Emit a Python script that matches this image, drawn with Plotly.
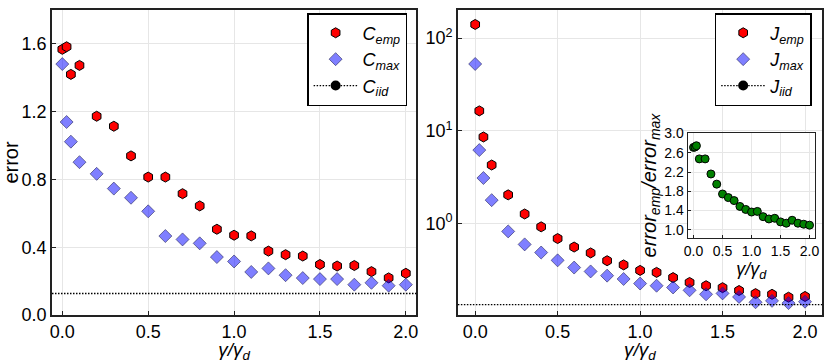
import plotly.graph_objects as go

# gamma / gamma_d
gamma = [0.0, 0.025, 0.05, 0.1, 0.2, 0.3, 0.4, 0.5, 0.6, 0.7, 0.8, 0.9,
         1.0, 1.1, 1.2, 1.3, 1.4, 1.5, 1.6, 1.7, 1.8, 1.9, 2.0]

c_emp = [1.568, 1.583, 1.42, 1.473, 1.173, 1.114, 0.939, 0.814, 0.814, 0.716,
         0.644, 0.506, 0.471, 0.467, 0.377, 0.356, 0.348, 0.298, 0.289, 0.292,
         0.256, 0.219, 0.246]
c_max = [1.481, 1.139, 1.023, 0.902, 0.833, 0.746, 0.692, 0.612, 0.466, 0.446,
         0.423, 0.342, 0.316, 0.254, 0.275, 0.235, 0.218, 0.212, 0.212, 0.179,
         0.190, 0.173, 0.179]
c_iid = 0.127

j_emp = [140.0, 16.4, 8.58, 4.28, 2.04, 1.27, 0.923, 0.69, 0.559, 0.483,
         0.398, 0.359, 0.313, 0.298, 0.262, 0.232, 0.214, 0.204, 0.19, 0.176,
         0.173, 0.161, 0.164]
j_max = [52.5, 6.2, 3.1, 1.79, 0.824, 0.597, 0.488, 0.402, 0.336, 0.305,
         0.275, 0.253, 0.226, 0.214, 0.205, 0.191, 0.173, 0.177, 0.162, 0.142,
         0.147, 0.139, 0.144]
j_iid = 0.134

ratio = [2.713, 2.72, 2.747, 2.474, 2.474, 2.16, 1.949, 1.744, 1.669, 1.607,
         1.485, 1.423, 1.369, 1.382, 1.273, 1.225, 1.239, 1.164, 1.137, 1.198,
         1.137, 1.116, 1.096]

log_ticks = [1, 10, 100]
log_labels = ['10<sup>0</sup>', '10<sup>1</sup>', '10<sup>2</sup>']

FONT = 'Liberation Sans, Arial, sans-serif'
GRID = '#e6e6e6'
AX = '#222222'

emp_marker = dict(symbol='hexagon', size=10, color='red',
                  line=dict(color='black', width=1))
max_marker = dict(symbol='diamond', size=10, color='rgba(0,0,255,0.5)',
                  line=dict(color='rgba(40,40,90,0.6)', width=1))
iid_line = dict(color='black', width=1.3, dash='1.5px,1.5px')

fig = go.Figure()

# left panel
fig.add_trace(go.Scatter(x=gamma, y=c_emp, mode='markers', marker=emp_marker,
                         name='<i>C<sub>emp</sub></i>', xaxis='x', yaxis='y', legend='legend'))
fig.add_trace(go.Scatter(x=gamma, y=c_max, mode='markers', marker=max_marker,
                         name='<i>C<sub>max</sub></i>', xaxis='x', yaxis='y', legend='legend'))
fig.add_trace(go.Scatter(x=[None], y=[None], mode='lines+markers', line=iid_line,
                         marker=dict(color='black', size=10),
                         name='<i>C<sub>iid</sub></i>', xaxis='x', yaxis='y', legend='legend'))

# right panel
fig.add_trace(go.Scatter(x=gamma, y=j_emp, mode='markers', marker=emp_marker,
                         name='<i>J<sub>emp</sub></i>', xaxis='x2', yaxis='y2', legend='legend2'))
fig.add_trace(go.Scatter(x=gamma, y=j_max, mode='markers', marker=max_marker,
                         name='<i>J<sub>max</sub></i>', xaxis='x2', yaxis='y2', legend='legend2'))
fig.add_trace(go.Scatter(x=[None], y=[None], mode='lines+markers', line=iid_line,
                         marker=dict(color='black', size=10),
                         name='<i>J<sub>iid</sub></i>', xaxis='x2', yaxis='y2', legend='legend2'))

# inset
fig.add_trace(go.Scatter(x=gamma, y=ratio, mode='markers', showlegend=False,
                         marker=dict(symbol='circle', size=8, color='green',
                                     line=dict(color='black', width=1)),
                         xaxis='x3', yaxis='y3'))

fig.add_shape(type='line', xref='x domain', x0=0, x1=1, yref='y', y0=c_iid, y1=c_iid,
              line=iid_line)
fig.add_shape(type='line', xref='x2 domain', x0=0, x1=1, yref='y2', y0=j_iid, y1=j_iid,
              line=iid_line)

axis_common = dict(showline=True, linecolor=AX, linewidth=1.5, mirror=True,
                   showgrid=True, gridcolor=GRID, gridwidth=1, zeroline=False,
                   ticks='inside', ticklen=4, tickcolor=AX,
                   tickfont=dict(size=18, color='black'))

title_x = dict(text='<i>γ/γ<sub>d</sub></i>', font=dict(size=19, color='black'), standoff=0)

legend_common = dict(bgcolor='white', bordercolor='black', borderwidth=1.5,
                     font=dict(size=18, color='black'), xanchor='right', yanchor='top',
                     itemwidth=44)

inset_axis = dict(showline=True, linecolor=AX, linewidth=1.2, mirror=True,
                  showgrid=True, gridcolor=GRID, zeroline=False, ticks='inside',
                  ticklen=3, tickcolor=AX, tickfont=dict(size=14, color='black'))

fig.update_layout(
    width=830, height=363,
    margin=dict(l=52, r=4, t=3, b=48),
    paper_bgcolor='white', plot_bgcolor='white',
    font=dict(family=FONT, color='black'),
    xaxis=dict(domain=[0, 0.4729], range=[-0.06, 2.06], dtick=0.5, tickformat='.1f',
               title=title_x, anchor='y', **axis_common),
    yaxis=dict(domain=[0, 1], range=[0, 1.8], dtick=0.4, tickformat='.1f',
               title=dict(text='error', font=dict(size=20, color='black'), standoff=2),
               anchor='x', **axis_common),
    xaxis2=dict(domain=[0.5271, 1], range=[-0.105, 2.103], dtick=0.5, tickformat='.1f',
                title=title_x, anchor='y2', **axis_common),
    yaxis2=dict(domain=[0, 1], type='log', range=[-0.985, 2.302],
                tickvals=log_ticks, ticktext=log_labels, anchor='x2', **axis_common),
    xaxis3=dict(domain=[0.8256, 0.9906], range=[-0.1, 2.09], dtick=0.5, tickformat='.1f',
                anchor='y3', **inset_axis,
                title=dict(text='<i>γ/γ<sub>d</sub></i>', font=dict(size=18, color='black'),
                           standoff=2)),
    yaxis3=dict(domain=[0.251, 0.598], range=[0.82, 3.02], tick0=1.0, dtick=0.4,
                tickformat='.1f', anchor='x3', **inset_axis,
                title=dict(text='<i>error<sub>emp</sub>/error<sub>max</sub></i>',
                           font=dict(size=20, color='black'), standoff=2)),
    legend=dict(x=0.4612, y=0.99, **legend_common),
    legend2=dict(x=0.9866, y=0.99, **legend_common),
)

fig.write_html("out.html", config={'displayModeBar': False},
               post_script="document.body.style.margin='0px';")
